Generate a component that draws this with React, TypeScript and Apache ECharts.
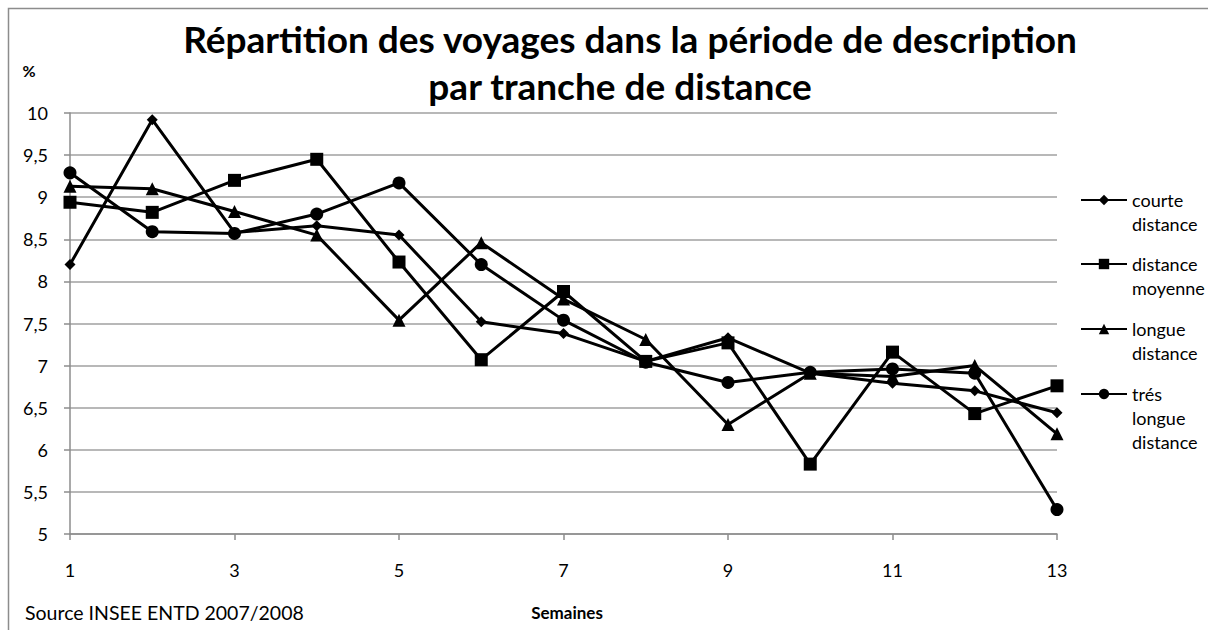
import React, { useEffect, useRef } from "react";
import * as echarts from "echarts";

const weeks = ["1", "2", "3", "4", "5", "6", "7", "8", "9", "10", "11", "12", "13"];
const courte = [8.2, 9.92, 8.58, 8.66, 8.55, 7.52, 7.38, 7.05, 7.33, 6.91, 6.79, 6.7, 6.44];
const moyenne = [8.94, 8.82, 9.2, 9.45, 8.23, 7.07, 7.88, 7.05, 7.27, 5.83, 7.16, 6.43, 6.76];
const longue = [9.13, 9.1, 8.83, 8.55, 7.54, 8.46, 7.79, 7.31, 6.3, 6.91, 6.87, 7.0, 6.19];
const tresLongue = [9.29, 8.59, 8.57, 8.8, 9.17, 8.2, 7.54, 7.04, 6.8, 6.92, 6.96, 6.91, 5.29];

const seriesNames = ["courte\ndistance", "distance\nmoyenne", "longue\ndistance", "trés\nlongue\ndistance"];
const seriesData = [courte, moyenne, longue, tresLongue];
const symbols = ["diamond", "rect", "triangle", "circle"];
const symbolSizes = [11, 13, 13, 13];

const titleLine1 = "Répartition des voyages dans la période de description";
const titleLine2 = "par tranche de distance";
const yUnit = "%";
const xName = "Semaines";
const sourceText = "Source INSEE ENTD 2007/2008";

const FONT = "Lato";

export default function App() {
  const ref = useRef<HTMLDivElement>(null);
  useEffect(() => {
    if (!ref.current) return;
    const chart = echarts.init(ref.current, null, { renderer: "svg" });
    const legendIconCenters = [200, 264, 329, 394];
    const lineH = 24;
    const legends = seriesNames.map((name, i) => {
      const nLines = name.split("\n").length;
      const pad = "\n".repeat(nLines - 1);
      const H = (2 * nLines - 1) * lineH;
      return {
        data: [{ name }],
        orient: "vertical",
        left: 1080,
        top: legendIconCenters[i] - H / 2,
        padding: 0,
        itemWidth: 46,
        itemHeight: 13,
        selectedMode: false,
        formatter: (n: string) => pad + n,
        textStyle: {
          fontFamily: FONT,
          fontSize: 18,
          lineHeight: lineH,
          color: "#000",
        },
      };
    });
    chart.setOption({
      animation: false,
      backgroundColor: "#fff",
      grid: {
        left: 70,
        right: 151,
        top: 113,
        bottom: 96,
        containLabel: false,
        outerBoundsMode: "none",
      },
      legend: legends,
      xAxis: {
        type: "category",
        data: weeks,
        boundaryGap: false,
        axisLine: { lineStyle: { color: "#8c8c8c", width: 1.5 } },
        axisTick: { show: true, interval: 1, length: 6, lineStyle: { color: "#8c8c8c", width: 1.5 } },
        axisLabel: { interval: 1, margin: 27, fontFamily: FONT, fontSize: 18, color: "#000" },
        splitLine: { show: false },
      },
      yAxis: {
        type: "value",
        min: 5,
        max: 10,
        interval: 0.5,
        axisLine: { show: true, lineStyle: { color: "#8c8c8c", width: 1.5 } },
        axisTick: { show: true, length: 6, lineStyle: { color: "#8c8c8c", width: 1.5 } },
        axisLabel: {
          margin: 22,
          fontFamily: FONT,
          fontSize: 18,
          color: "#000",
          formatter: (v: number) => String(v).replace(".", ","),
        },
        splitLine: { show: true, lineStyle: { color: "#a0a0a0", width: 1.5 } },
      },
      graphic: [
        {
          type: "rect",
          shape: { x: 8.5, y: 8.5, width: 1220, height: 640 },
          style: { fill: "none", stroke: "#8c8c8c", lineWidth: 1.5 },
          silent: true,
        },
        {
          type: "text",
          x: 630,
          y: 38,
          style: {
            text: titleLine1,
            font: `bold 37px ${FONT}`,
            fill: "#000",
            align: "center",
            verticalAlign: "middle",
          },
        },
        {
          type: "text",
          x: 620,
          y: 85,
          style: {
            text: titleLine2,
            font: `bold 37px ${FONT}`,
            fill: "#000",
            align: "center",
            verticalAlign: "middle",
          },
        },
        {
          type: "text",
          x: 29,
          y: 70,
          style: {
            text: yUnit,
            font: `bold 16px ${FONT}`,
            fill: "#000",
            align: "center",
            verticalAlign: "middle",
          },
        },
        {
          type: "text",
          x: 567,
          y: 612,
          style: {
            text: xName,
            font: `bold 17px ${FONT}`,
            fill: "#000",
            align: "center",
            verticalAlign: "middle",
          },
        },
        {
          type: "text",
          x: 25,
          y: 612,
          style: {
            text: sourceText,
            font: `19.5px ${FONT}`,
            fill: "#000",
            align: "left",
            verticalAlign: "middle",
          },
        },
      ],
      series: seriesNames.map((name, i) => ({
        name,
        type: "line",
        data: seriesData[i],
        symbol: symbols[i],
        symbolSize: symbolSizes[i],
        showAllSymbol: true,
        lineStyle: { color: "#000", width: 3 },
        itemStyle: { color: "#000" },
        emphasis: { disabled: true },
      })),
    });
    return () => chart.dispose();
  }, []);
  return (
    <div
      ref={ref}
      style={{ position: "fixed", left: 0, top: 0, width: 1208, height: 630 }}
    />
  );
}
